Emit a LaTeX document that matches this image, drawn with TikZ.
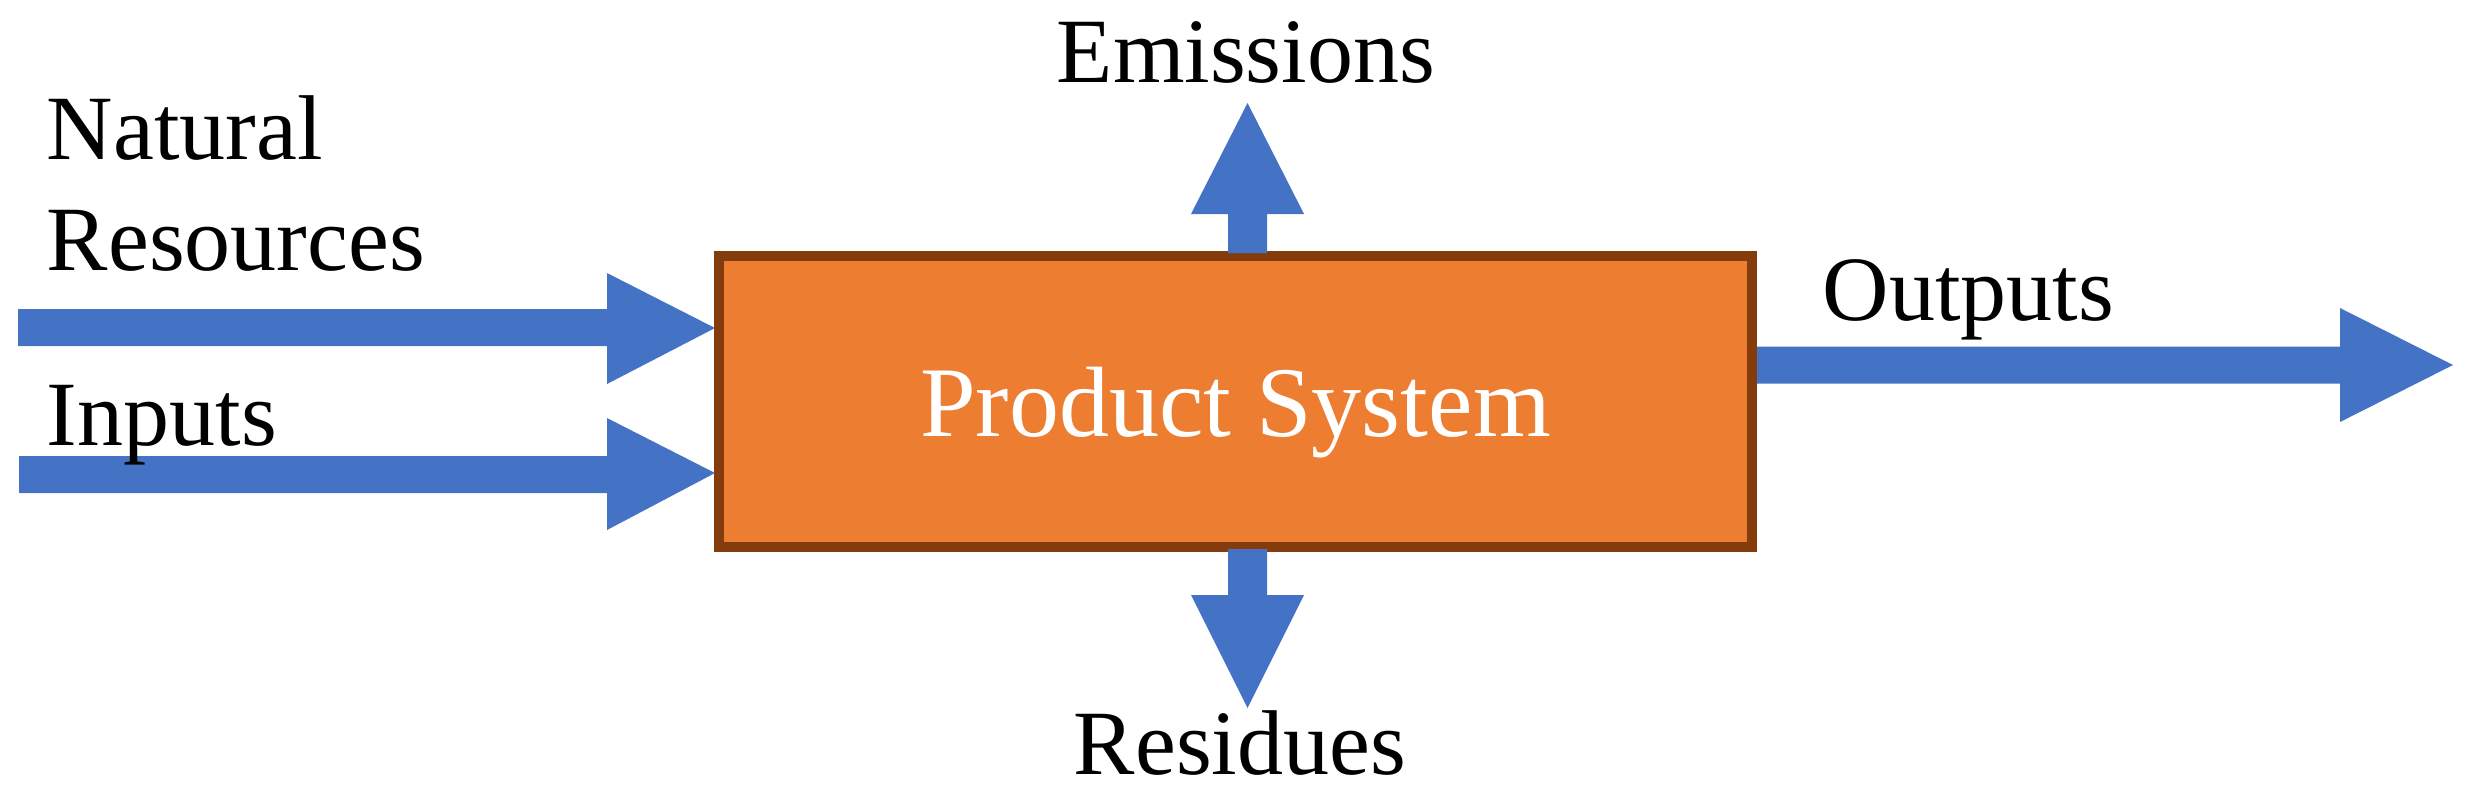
\documentclass[tikz,border=0pt]{standalone}
\usepackage{fontspec}
\setmainfont{Liberation Serif}
\definecolor{flowblue}{HTML}{4472C4}
\definecolor{boxorange}{HTML}{ED7D31}
\definecolor{boxbrown}{HTML}{843C0C}
\tikzset{
  flow/.style={fill=flowblue},
  lbl/.style={anchor=base west, inner sep=0pt, font=\fontsize{23}{27}\selectfont},
  sysbox/.style={draw=boxbrown, line width=2.5pt, fill=boxorange, inner sep=0pt,
    minimum width=1033*0.25pt, minimum height=291*0.25pt},
}
\begin{document}
\begin{tikzpicture}[x=0.25pt, y=-0.25pt]
\useasboundingbox (0,0) rectangle (2468,794);
% system box
\node[sysbox] (ps) at (1235.5,401) {};
\node[anchor=base, inner sep=0pt, text=white, font=\fontsize{25}{30}\selectfont] (pst) at (1235.5,436) {Product System};
% named ends of the flows
\coordinate (nrs) at (18,327.5);
\coordinate (ins) at (19,474.5);
\coordinate (oute) at (2453,365);
\coordinate (emie) at (1247.5,103);
\coordinate (rese) at (1247.5,708);
% natural resources flow
\fill[flow] (nrs) ++(0,-18.5) -- (607,309) -- (607,273) -- (715,328) -- (607,384) -- (607,346) -- (18,346) -- cycle;
% inputs flow
\fill[flow] (ins) ++(0,-18.5) -- (607,456) -- (607,418) -- (715,473) -- (607,530) -- (607,493) -- (19,493) -- cycle;
% outputs flow
\fill[flow] (1757,346.5) -- (2340,346.5) -- (2340,308) -- (oute) -- (2340,422) -- (2340,383.5) -- (1757,383.5) -- cycle;
% emissions flow
\fill[flow] (1228,253) -- (1228,214) -- (1191,214) -- (emie) -- (1304,214) -- (1267,214) -- (1267,253) -- cycle;
% residues flow
\fill[flow] (1228,549) -- (1228,595) -- (1191,595) -- (rese) -- (1304,595) -- (1267,595) -- (1267,549) -- cycle;
% labels
\node[lbl] (nat) at (46,159) {Natural};
\node[lbl] (res) at (46,270) {Resources};
\node[lbl] (inp) at (46,445) {Inputs};
\node[lbl] (emi) at (1056,82) {Emissions};
\node[lbl] (out) at (1822,320) {Outputs};
\node[lbl] (rsd) at (1073,774) {Residues};
\end{tikzpicture}
\end{document}
